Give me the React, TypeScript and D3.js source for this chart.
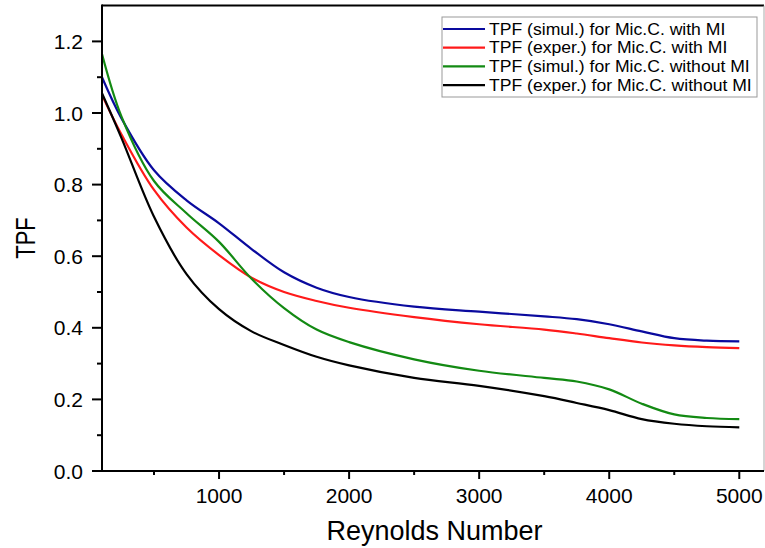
import React from "react";
import * as d3 from "d3";

const reynolds = [100, 250, 500, 750, 1000, 1250, 1500, 1750, 2000, 2500, 3000, 3500, 3750, 4000, 4250, 4500, 4750, 5000];
const tpfSimWithMI = [1.10, 0.985, 0.84, 0.756, 0.692, 0.62, 0.555, 0.512, 0.486, 0.459, 0.445, 0.432, 0.424, 0.41, 0.39, 0.371, 0.364, 0.362];
const tpfExpWithMI = [1.05, 0.94, 0.785, 0.68, 0.603, 0.54, 0.5, 0.475, 0.456, 0.43, 0.41, 0.395, 0.384, 0.371, 0.359, 0.351, 0.346, 0.343];
const tpfSimWithoutMI = [1.165, 0.99, 0.81, 0.72, 0.64, 0.537, 0.455, 0.395, 0.36, 0.312, 0.28, 0.26, 0.25, 0.228, 0.188, 0.158, 0.148, 0.145];
const tpfExpWithoutMI = [1.055, 0.93, 0.71, 0.55, 0.452, 0.39, 0.352, 0.319, 0.295, 0.26, 0.238, 0.209, 0.19, 0.17, 0.145, 0.132, 0.125, 0.122];

const seriesNames = [
  "TPF (simul.) for Mic.C. with MI",
  "TPF (exper.) for Mic.C. with MI",
  "TPF (simul.) for Mic.C. without MI",
  "TPF (exper.) for Mic.C. without MI",
];
const seriesColors = ["#0a0a9e", "#ff1a1a", "#138a13", "#000000"];
const seriesValues = [tpfSimWithMI, tpfExpWithMI, tpfSimWithoutMI, tpfExpWithoutMI];

const xMajorTicks = [1000, 2000, 3000, 4000, 5000];
const xMinorTicks = [500, 1500, 2500, 3500, 4500];
const yMajorTicks = [0, 0.2, 0.4, 0.6, 0.8, 1.0, 1.2];
const yMinorTicks = [0.1, 0.3, 0.5, 0.7, 0.9, 1.1];

const W = 765;
const H = 548;
const left = 102;
const right = 764;
const top = 5.6;
const bottom = 471;
const font = "'Liberation Sans', Arial, sans-serif";

export default function App() {
  const x = d3.scaleLinear().domain([100, 5190]).range([left, right]);
  const y = d3.scaleLinear().domain([0, 1.3]).range([bottom, top]);
  const line = d3
    .line<[number, number]>()
    .x((d) => x(d[0]))
    .y((d) => y(d[1]))
    .curve(d3.curveCatmullRom.alpha(0.5));

  const legendX = 442;
  const legendY = 17;
  const rowH = 18.7;

  return (
    <svg
      width={W}
      height={H}
      style={{ position: "absolute", left: 0, top: 0, background: "#fff" }}
      fontFamily={font}
    >
      <rect x={0} y={0} width={W} height={H} fill="#fff" />
      {seriesValues.map((vals, i) => (
        <path
          key={i}
          d={line(reynolds.map((r, j) => [r, vals[j]] as [number, number])) || ""}
          fill="none"
          stroke={seriesColors[i]}
          strokeWidth={2.2}
        />
      ))}
      {/* frame */}
      <line x1={left} x2={right} y1={top} y2={top} stroke="#000" strokeWidth={2} />
      <line x1={right} x2={right} y1={top} y2={bottom} stroke="#aaa" strokeWidth={1} />
      <line x1={left} x2={left} y1={top - 1} y2={bottom + 1} stroke="#000" strokeWidth={2} />
      <line x1={left - 1} x2={right} y1={bottom} y2={bottom} stroke="#000" strokeWidth={2} />
      {/* y ticks */}
      {yMajorTicks.map((t) => (
        <g key={"ym" + t}>
          <line x1={left - 10} x2={left} y1={y(t)} y2={y(t)} stroke="#000" strokeWidth={2} />
          <text x={83} y={y(t)} dy="0.36em" textAnchor="end" fontSize={21} fill="#000">
            {d3.format(".1f")(t)}
          </text>
        </g>
      ))}
      {yMinorTicks.map((t) => (
        <line key={"yn" + t} x1={left - 5} x2={left} y1={y(t)} y2={y(t)} stroke="#000" strokeWidth={2} />
      ))}
      {/* x ticks */}
      {xMajorTicks.map((t) => (
        <g key={"xm" + t}>
          <line x1={x(t)} x2={x(t)} y1={bottom} y2={bottom + 8} stroke="#000" strokeWidth={2} />
          <text x={x(t)} y={503} textAnchor="middle" fontSize={21} fill="#000">
            {t}
          </text>
        </g>
      ))}
      {xMinorTicks.map((t) => (
        <line key={"xn" + t} x1={x(t)} x2={x(t)} y1={bottom} y2={bottom + 4} stroke="#000" strokeWidth={2} />
      ))}
      {/* axis titles */}
      <text x={434.5} y={540} textAnchor="middle" fontSize={27} fill="#000">
        Reynolds Number
      </text>
      <text
        transform="translate(35,238) rotate(-90) scale(1,1.25)"
        textAnchor="middle"
        fontSize={22}
        fill="#000"
      >
        TPF
      </text>
      {/* legend */}
      <rect x={legendX} y={legendY} width={315} height={80} fill="#fff" stroke="#999" strokeWidth={1} />
      {seriesNames.map((name, i) => {
        const ry = 29 + i * rowH;
        return (
          <g key={name}>
            <line x1={443} x2={485} y1={ry} y2={ry} stroke={seriesColors[i]} strokeWidth={2.2} />
            <text
              transform={`translate(489,${ry + 5.5}) scale(1.1,1)`}
              fontSize={16}
              fill="#000"
            >
              {name}
            </text>
          </g>
        );
      })}
    </svg>
  );
}
